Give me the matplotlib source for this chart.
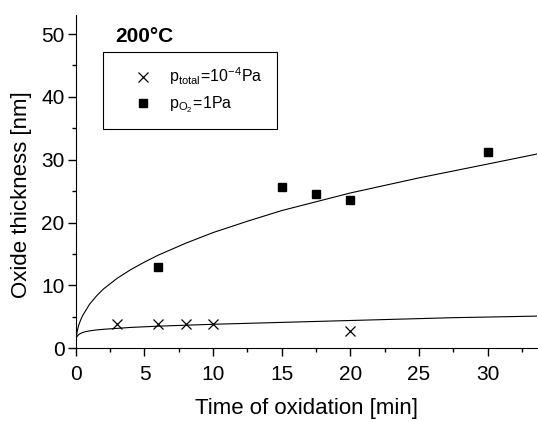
import matplotlib
matplotlib.use("Agg")
import matplotlib.pyplot as plt
from matplotlib.ticker import MultipleLocator

plt.rcParams['font.family'] = ['Liberation Sans', 'DejaVu Sans']
plt.rcParams['mathtext.fontset'] = 'custom'
plt.rcParams['mathtext.rm'] = 'Liberation Sans'
plt.rcParams['mathtext.it'] = 'Liberation Sans'

# measured points
t_total = [3, 6, 8, 10, 20]
d_total = [3.8, 3.8, 3.8, 3.8, 2.7]

t_o2 = [6, 15, 17.5, 20, 30]
d_o2 = [12.9, 25.6, 24.6, 23.6, 31.3]

# fitted curves
t_fit = [0, 0.05, 0.1, 0.2, 0.35, 0.5, 0.75, 1, 1.5, 2, 3, 4, 5, 6, 8, 10,
         12.5, 15, 17.5, 20, 22.5, 25, 27.5, 30, 33.6]
d_fit_o2 = [1.0, 2.0, 2.7, 3.6, 4.5, 5.2, 6.1, 7.0, 8.3, 9.4, 11.1, 12.5,
            13.7, 14.8, 16.7, 18.4, 20.2, 21.9, 23.3, 24.7, 25.9, 27.1,
            28.2, 29.3, 30.9]
d_fit_total = [1.4, 1.7, 1.9, 2.15, 2.35, 2.5, 2.65, 2.75, 2.9, 3.0, 3.15,
               3.3, 3.4, 3.5, 3.65, 3.8, 3.95, 4.1, 4.25, 4.4, 4.55, 4.7,
               4.85, 4.95, 5.1]

fig = plt.figure(figsize=(5.38, 4.22), dpi=100)
ax = fig.add_axes([0.141, 0.175, 0.857, 0.789])

ax.plot(t_fit, d_fit_o2, color='black', lw=0.8)
ax.plot(t_fit, d_fit_total, color='black', lw=0.8)
ax.plot(t_total, d_total, 'x', color='black', ms=6.5, mew=0.9,
        label=r'$\mathregular{p_{total}\!=\!10^{-4}Pa}$')
ax.plot(t_o2, d_o2, 's', color='black', ms=5.8,
        label=r'$\mathregular{p_{O_2}\!=\!1Pa}$')

ax.set_xlim(0, 33.6)
ax.set_ylim(0, 53)
ax.xaxis.set_major_locator(MultipleLocator(5))
ax.xaxis.set_minor_locator(MultipleLocator(2.5))
ax.yaxis.set_major_locator(MultipleLocator(10))
ax.yaxis.set_minor_locator(MultipleLocator(5))
ax.tick_params(which='both', direction='out', width=1, labelsize=15)
ax.tick_params(which='major', length=6)
ax.tick_params(which='minor', length=3)
ax.tick_params(axis='x', pad=6)
ax.tick_params(axis='y', pad=2)
ax.spines['top'].set_visible(False)
ax.spines['right'].set_visible(False)

ax.set_xlabel("Time of oxidation [min]", fontsize=16)
ax.set_ylabel("Oxide thickness [nm]", fontsize=16)
ax.xaxis.set_label_coords(0.5, -0.15)
ax.yaxis.set_label_coords(-0.095, 0.46)

ax.text(0.085, 0.964, "200°C", transform=ax.transAxes, fontsize=15,
        fontweight='bold', va='top', ha='left')

leg = ax.legend(loc='upper left', bbox_to_anchor=(0.0586, 0.66, 0.377, 0.229),
                mode='expand', fancybox=False, edgecolor='black',
                framealpha=1, fontsize=11.5, handletextpad=0.0,
                borderpad=0.85, labelspacing=0.45, handlelength=3.3,
                borderaxespad=0)
leg.get_frame().set_linewidth(0.8)

fig.savefig("out.png", dpi=100)
